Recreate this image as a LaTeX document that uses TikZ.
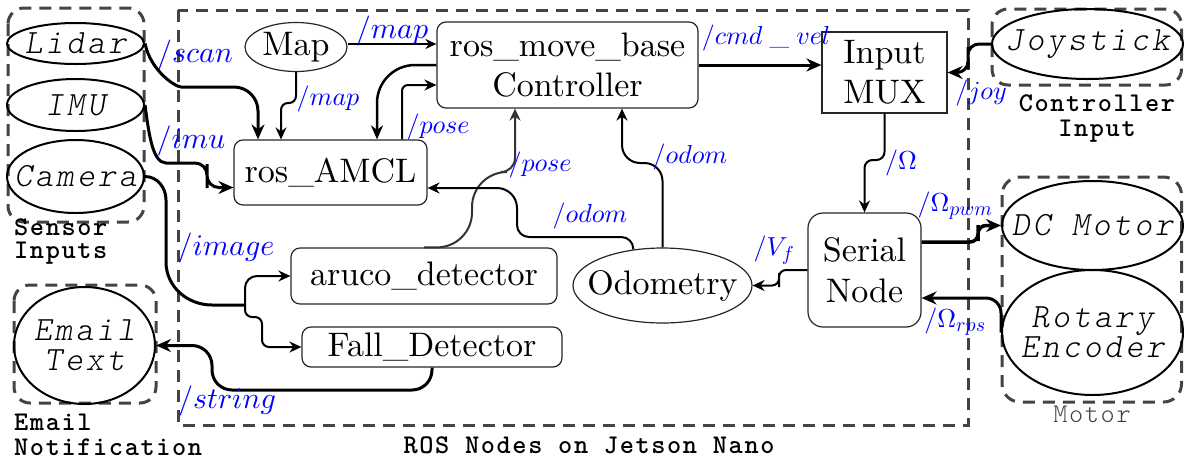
\RequirePackage{fix-cm}
\documentclass[tikz,border=0pt]{standalone}
\usepackage{fontspec}
\usetikzlibrary{arrows.meta,shapes.geometric}
% text faces: roman at its 10pt design, light typewriter for devices and captions
\setmainfont{lmroman10-regular.otf}
\newfontfamily\devfont{lmmonolt10-oblique.otf}[LetterSpace=9]
\newfontfamily\grpfont{lmmonolt10-bold.otf}[LetterSpace=6]
\newfontfamily\motfont{lmmonolt10-regular.otf}[LetterSpace=6]
% math letters at their 10pt design, scaled freely
\DeclareFontShape{OML}{cmm}{m}{it}{<->cmmi10}{}
\DeclareFontShape{OT1}{cmr}{m}{n}{<->cmr10}{}
\DeclareMathSizes{26}{26}{20}{15}
\DeclareMathSizes{30}{30}{22}{16}
\definecolor{framegray}{HTML}{444444}
\definecolor{linkgray}{HTML}{333333}

\begin{document}
\begin{tikzpicture}[x=1pt,y=-1pt,
  frame/.style={draw=framegray, line width=3pt, dash pattern=on 12pt off 8pt},
  dev/.style={ellipse, draw, line width=2pt, inner xsep=-80pt, inner ysep=-60pt,
    font=\devfont\fontsize{34}{30}\selectfont, align=center},
  ros/.style={draw=black!85, line width=1.2pt, rounded corners=9pt, inner sep=0pt,
    font=\fontsize{34}{40.5}\selectfont, align=center},
  oval/.style={ellipse, draw=black!85, line width=1.2pt, inner xsep=-80pt, inner ysep=-60pt,
    font=\fontsize{34}{40.5}\selectfont},
  grp/.style={font=\grpfont\fontsize{27}{25}\selectfont, inner sep=0pt},
  lab/.style={text=blue, inner sep=0pt, font=\fontsize{30}{36}\selectfont},
  labs/.style={text=blue, inner sep=0pt, font=\fontsize{26}{31}\selectfont},
  heavy/.style={line width=3pt, -{Stealth[length=15pt,width=13pt,inset=5pt]}},
  medium/.style={line width=2pt, -{Stealth[length=12pt,width=11pt,inset=4pt]}},
  light/.style={line width=1.5pt, -{Stealth[length=11pt,width=10pt,inset=3.5pt]}},
]
\useasboundingbox (0,0) rectangle (1184,459);

% group frames
\draw[frame] (178,10) rectangle (968,425);
\draw[frame, rounded corners=16pt] (8,8) rectangle (144,222);
\draw[frame, rounded corners=16pt] (14,285) rectangle (156,403);
\draw[frame, rounded corners=16pt] (992,9) rectangle (1181.5,85);
\draw[frame, rounded corners=18pt] (1002,177) rectangle (1181.5,402);

% group captions
\node[grp, anchor=west, align=left, font=\grpfont\fontsize{27}{23}\selectfont] (capsensor) at (14,242) {Sensor\\Inputs};
\node[grp, anchor=west, align=left] (capemail) at (14,435) {Email\\Notification};
\node[grp, align=center] (capctrl) at (1097,119) {Controller\\Input};
\node[grp] (capros) at (589,445) {ROS Nodes on Jetson Nano};
\node[inner sep=0pt, text=black!75, font=\motfont\fontsize{27}{23}\selectfont] (capmotor) at (1092,414) {Motor};

% devices
\node[dev, minimum width=137pt, minimum height=41pt] (lidar) at (75.5,43.5) {Lidar};
\node[dev, minimum width=137pt, minimum height=52pt] (imu) at (75.5,105) {IMU};
\node[dev, minimum width=137pt, minimum height=73pt] (camera) at (75.5,176.5) {Camera};
\node[dev, minimum width=141pt, minimum height=117pt] (email) at (84.5,345.5) {Email\\Text};
\node[dev, minimum width=191pt, minimum height=70pt] (joy) at (1087.5,44) {Joystick};
\node[dev, minimum width=181pt, minimum height=89pt] (dcmotor) at (1092.5,225.5) {DC Motor};
\node[dev, minimum width=181pt, minimum height=125pt] (rotary) at (1092.5,332.5) {Rotary\\Encoder};

% ROS nodes
\node[ros, minimum width=261pt, minimum height=86pt] (movebase) at (567.5,65) {ros\_move\_base\\Controller};
\node[ros, minimum width=193pt, minimum height=65pt] (amcl) at (330.5,172.5) {ros\_AMCL};
\node[ros, minimum width=266pt, minimum height=56pt] (aruco) at (424,276) {aruco\_detector};
\node[ros, minimum width=260pt, minimum height=40pt] (fall) at (432,347) {Fall\_Detector};
\node[ros, rounded corners=0pt, minimum width=125pt, minimum height=81pt] (mux) at (884.5,72.5) {Input\\MUX};
\node[ros, rounded corners=15pt, minimum width=113pt, minimum height=114pt] (serial) at (864.5,270) {Serial\\Node};
\node[oval, minimum width=102pt, minimum height=49pt] (map) at (296,47) {Map};
\node[oval, minimum width=179pt, minimum height=75pt] (odom) at (662.5,285.5) {Odometry};
\coordinate (split) at (245,305);

% sensor links
\draw[heavy, rounded corners=24pt] (lidar.east) to[out=-78,in=180] (205,87) -| (amcl.north -| 258,0);
\draw[heavy, rounded corners=12pt] (imu.east) to[out=-82,in=180] (178,163) -| (207,176) |- ([yshift=-15pt]amcl.west);
\draw[line width=3pt] (camera.east) to[out=0,in=90] (166,200) -- (166,262) to[out=-90,in=180] (212,305) -- (split);
\draw[medium, rounded corners=12pt] (split) |- (aruco.west);
\draw[medium, rounded corners=7pt] (split) |- (262,317) |- (fall.west);
\draw[heavy, rounded corners=20pt] (fall.south) |- (212,390) |- (email.east);

% localisation and planning
\draw[light] ([yshift=3pt]map.east) -- ([yshift=3pt]map.east -| movebase.west);
\draw[medium, rounded corners=7pt] (map.south) |- (281,103) -- (amcl.north -| 281,0);
\draw[line width=2.5pt, -{Stealth[length=14pt,width=12pt,inset=4.5pt]}, rounded corners=38pt]
  (movebase.west) -| (amcl.north -| 377,0);
\draw[medium, rounded corners=6pt] (amcl.north -| 402,0) |- ([yshift=-20pt]movebase.west);
\draw[medium, draw=linkgray, rounded corners=35pt] (aruco.north) -| (472,172)
  [rounded corners=14pt] -| (movebase.south -| 515,0);
\draw[medium, rounded corners=12pt] (odom.129) |- (517,237) [rounded corners=20pt] |- ([yshift=-15.5pt]amcl.east);
\draw[medium, rounded corners=18pt] (odom.north) |- (622,163) -- (movebase.south -| 622,0);

% velocity path
\draw[heavy] (movebase.east) -- (movebase.east -| mux.west);
\draw[heavy, rounded corners=11pt] (joy.west) -| (968,58) |- (mux.east);
\draw[medium, rounded corners=8pt] (mux.south) |- (serial.north |- 0,160) -- (serial.north);
\draw[line width=3.5pt, -{Stealth[length=15pt,width=13pt,inset=5pt]}, rounded corners=8pt]
  ([yshift=28pt]serial.east) -| (978,233) |- (dcmotor.west);
\draw[heavy, rounded corners=15pt] (rotary.west) |- ([yshift=-28pt]serial.east);
\draw[medium, rounded corners=7pt] (serial.west) -| (779,280) |- (odom.east);

% topic labels
\node[lab] (tscan) at (195,55) {$/scan$};
\node[lab] (timu) at (191,141) {$/imu$};
\node[lab] (timage) at (226,248) {$/image$};
\node[lab] (tstring) at (227,401) {$/string$};
\node[lab] (tmapa) at (392,31) {$/map$};
\node[labs] (tmapb) at (328,99) {$/map$};
\node[labs] (tposea) at (438,127) {$/pose$};
\node[labs] (tposeb) at (540,165) {$/pose$};
\node[labs] (todoma) at (590,216) {$/odom$};
\node[labs] (todomb) at (690,157) {$/odom$};
\node[labs] (tcmd) at (766,38) {$/cmd\;\_\;vel$};
\node[labs] (tjoy) at (981,93) {$/joy$};
\node[labs] (tomega) at (901,163) {$/\Omega$};
\node[labs] (tpwm) at (955,206) {$/\Omega_{pwm}$};
\node[labs] (trps) at (955,322) {$/\Omega_{rps}$};
\node[labs] (tvf) at (774,250) {$/V_f$};
\end{tikzpicture}
\end{document}
